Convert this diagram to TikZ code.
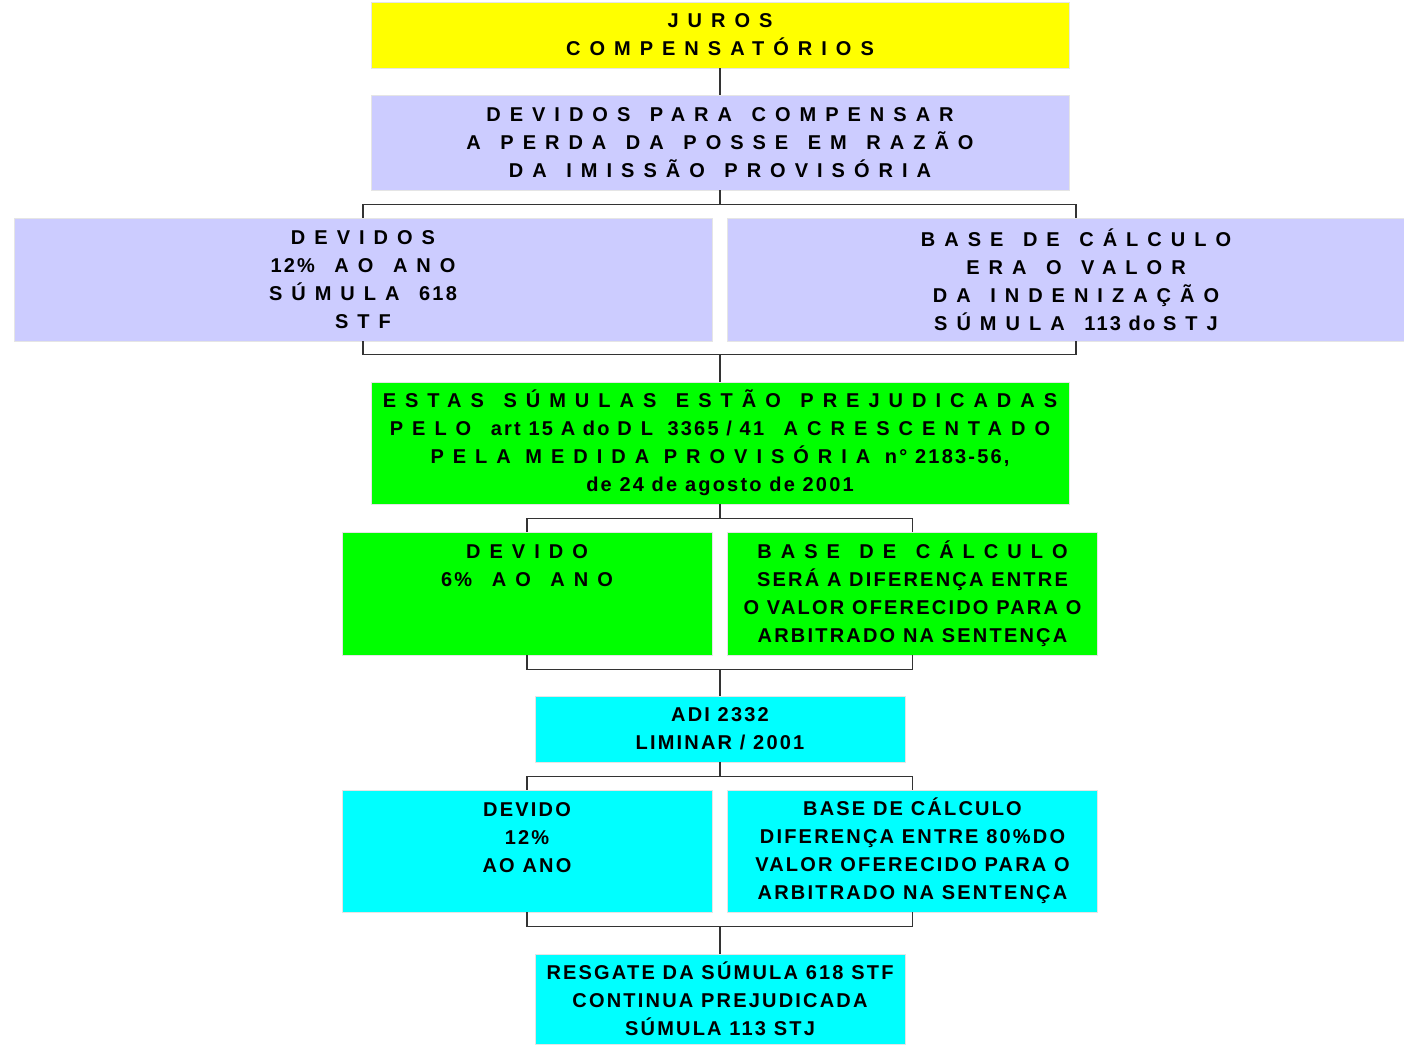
\documentclass[tikz,border=0pt]{standalone}
\usepackage{fontspec}
\setmainfont{Liberation Sans}
\newfontfamily\boxfont[LetterSpace=11]{Liberation Sans Bold}
\newfontfamily\widefont[LetterSpace=45]{Liberation Sans Bold}
\newcommand{\ws}[1]{{\widefont\spaceskip=\dimexpr\fontdimen2\font+5pt\relax\relax #1}}
\usetikzlibrary{positioning,calc}
\definecolor{jurosyellow}{RGB}{255,255,0}
\definecolor{lilac}{RGB}{204,204,255}
\definecolor{brightgreen}{RGB}{0,255,0}
\definecolor{brightcyan}{RGB}{0,255,255}
\tikzset{
    block/.style={rectangle, draw=black!10, line width=0.8pt, align=center, inner sep=0pt, font=\boxfont\fontsize{20}{28}\selectfont},
    wideblock/.style={block, minimum width=698pt},
    halfblock/.style={block, minimum width=370pt},
    line/.style={draw, black!80, line width=1.3pt}
}

\begin{document}
\begin{tikzpicture}[x=1pt, y=-1pt]
    \useasboundingbox (0,0) rectangle (1404,1045);
    % Top of the chart
    \node [wideblock, fill=jurosyellow, minimum height=66pt] (juros) at (720,35) {\ws{JUROS}\\\ws{COMPENSATÓRIOS}};
    \node [wideblock, fill=lilac, minimum height=95pt] (devidos) at (720,142.5) {\ws{DEVIDOS PARA COMPENSAR}\\\ws{A PERDA DA POSSE EM RAZÃO}\\\ws{DA IMISSÃO PROVISÓRIA}};

    % Before the provisional measure
    \node [wideblock, fill=lilac, minimum height=123pt] (doze) at (363,279.5) {\ws{DEVIDOS}\\12\%\ws{ AO ANO}\\\ws{SÚMULA }618\\\ws{STF}};
    \node [wideblock, fill=lilac, minimum height=123pt] (base) at (1076,279.5) {\ws{BASE DE CÁLCULO}\\\ws{ERA O VALOR}\\\ws{DA INDENIZAÇÃO}\\\ws{SÚMULA }113 do \ws{STJ}};

    % Provisional measure
    \node [wideblock, fill=brightgreen, minimum height=122pt] (estas) at (720,443) {\ws{ESTAS SÚMULAS ESTÃO PREJUDICADAS}\\\ws{PELO }art 15 A do {\widefont DL }3365 / 41\ws{ ACRESCENTADO}\\{\widefont PELA MEDIDA PROVISÓRIA }n° 2183-56,\\de 24 de agosto de 2001};
    \node [halfblock, fill=brightgreen, minimum height=123pt] (seis) at (527,593.5) {\ws{DEVIDO}\\6\%\ws{ AO ANO}\\~\\~};
    \node [halfblock, fill=brightgreen, minimum height=123pt] (diferenca) at (912.5,593.5) {\ws{BASE DE CÁLCULO}\\SERÁ A DIFERENÇA ENTRE\\O VALOR OFERECIDO PARA O\\ARBITRADO NA SENTENÇA};

    % ADI 2332
    \node [halfblock, fill=brightcyan, minimum height=66pt] (adi) at (720,729) {ADI 2332\\LIMINAR / 2001};
    \node [halfblock, fill=brightcyan, minimum height=122pt] (devido) at (527,851) {DEVIDO\\12\%\\AO ANO\\~};
    \node [halfblock, fill=brightcyan, minimum height=122pt] (oitenta) at (912.5,851) {BASE DE CÁLCULO\\DIFERENÇA ENTRE 80\%DO\\VALOR OFERECIDO PARA O\\ARBITRADO NA SENTENÇA};
    \node [halfblock, fill=brightcyan, minimum height=90pt] (resgate) at (720,999) {RESGATE DA SÚMULA 618 STF\\CONTINUA PREJUDICADA\\SÚMULA 113 STJ};

    % Connections
    \path [line] (juros) -- (devidos);
    \path [line] (devidos.south) -- ++(0,14) -| (doze.north);
    \path [line] (devidos.south) -- ++(0,14) -| (base.north);
    \path [line] (doze.south) -- ++(0,13) -| (estas.north);
    \path [line] (base.south) -- ++(0,13) -| (estas.north);

    \path [line] (estas.south) -- ++(0,14) -| (seis.north);
    \path [line] (estas.south) -- ++(0,14) -| (diferenca.north);
    \path [line] (seis.south) -- ++(0,14) -| (adi.north);
    \path [line] (diferenca.south) -- ++(0,14) -| (adi.north);

    \path [line] (adi.south) -- ++(0,14) -| (devido.north);
    \path [line] (adi.south) -- ++(0,14) -| (oitenta.north);
    \path [line] (devido.south) -- ++(0,14) -| (resgate.north);
    \path [line] (oitenta.south) -- ++(0,14) -| (resgate.north);
\end{tikzpicture}
\end{document}
